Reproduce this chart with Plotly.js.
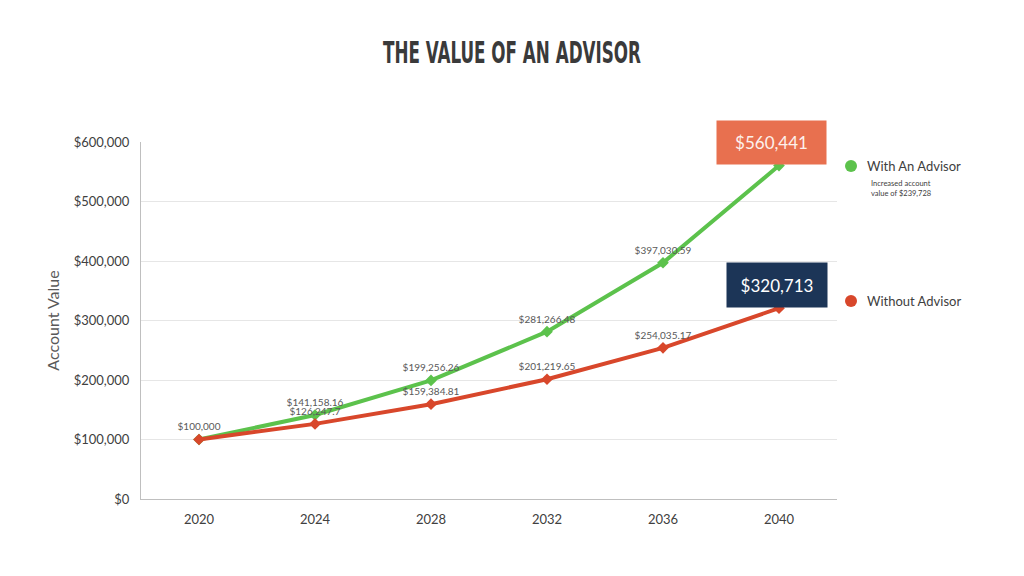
<!DOCTYPE html>
<html>
<head>
<meta charset="utf-8">
<script src="https://cdn.plot.ly/plotly-3.0.1.min.js"></script>
<style>html,body{margin:0;padding:0;background:#fff;}#chart{width:1024px;height:576px;}</style>
</head>
<body>
<div id="chart"></div>
<script>
const years = ['2020', '2024', '2028', '2032', '2036', '2040'];
const withAdvisor = [100000, 141158.16, 199256.26, 281266.48, 397030.59, 560441];
const withoutAdvisor = [100000, 126247.7, 159384.81, 201219.65, 254035.17, 320713];
const withLabels = ['', '$141,158.16', '$199,256.26', '$281,266.48', '$397,030.59', ''];
const withoutLabels = ['$100,000', '$126,247.7', '$159,384.81', '$201,219.65', '$254,035.17', ''];
const yTickVals = [0, 100000, 200000, 300000, 400000, 500000, 600000];
const yTickText = ['$0', '$100,000', '$200,000', '$300,000', '$400,000', '$500,000', '$600,000'];
const seriesNames = ['With An Advisor', 'Without Advisor'];
const endLabels = ['$560,441', '$320,713'];
const noteText = 'Increased account<br>value of $239,728';

const green = '#5cc24c';
const red = '#d8472b';
const font = 'Lato, "Open Sans", sans-serif';
const last = years.length - 1;

const traces = [
  {
    x: years, y: withAdvisor, name: seriesNames[0], type: 'scatter', mode: 'lines+markers+text',
    line: {color: green, width: 4}, marker: {symbol: 'diamond', size: 9, color: green},
    text: withLabels, textposition: 'top center', textfont: {family: font, size: 10, color: '#595959'},
    cliponaxis: false, hoverinfo: 'x+y'
  },
  {
    x: years, y: withoutAdvisor, name: seriesNames[1], type: 'scatter', mode: 'lines+markers+text',
    line: {color: red, width: 4}, marker: {symbol: 'diamond', size: 9, color: red},
    text: withoutLabels, textposition: 'top center', textfont: {family: font, size: 10, color: '#595959'},
    cliponaxis: false, hoverinfo: 'x+y'
  }
];

const layout = {
  width: 1024, height: 576,
  margin: {l: 141, r: 187, t: 142, b: 77},
  paper_bgcolor: '#fff', plot_bgcolor: '#fff',
  showlegend: false,
  title: {
    text: '<b>THE VALUE OF AN ADVISOR</b>',
    font: {family: '"DejaVu Sans Condensed", "Liberation Sans Narrow", sans-serif', size: 30, color: '#3a3a3a'},
    x: 0.5, xanchor: 'center', xref: 'container', y: 1 - 52 / 576, yanchor: 'middle'
  },
  xaxis: {
    type: 'category', range: [-0.5, 5.5],
    showgrid: false, zeroline: false,
    showline: true, linecolor: '#bfbfbf', linewidth: 1,
    ticks: '', tickfont: {family: font, size: 13, color: '#404040'},
    ticklabelstandoff: 8
  },
  yaxis: {
    range: [0, 600000], tickvals: yTickVals, ticktext: yTickText,
    showgrid: true, gridcolor: '#e6e6e6', gridwidth: 1, zeroline: false,
    showline: true, linecolor: '#bfbfbf', linewidth: 1,
    ticks: '', tickfont: {family: font, size: 13, color: '#404040'},
    ticklabelstandoff: 8,
    title: {text: 'Account Value', font: {family: font, size: 16, color: '#595959'}, standoff: 10}
  },
  shapes: [
    {type: 'circle', xref: 'paper', yref: 'paper', xsizemode: 'pixel', ysizemode: 'pixel',
     xanchor: (851 - 141) / 696, yanchor: (499 - 166) / 357, x0: -6, x1: 6, y0: -6, y1: 6,
     fillcolor: green, line: {width: 0}},
    {type: 'circle', xref: 'paper', yref: 'paper', xsizemode: 'pixel', ysizemode: 'pixel',
     xanchor: (851 - 141) / 696, yanchor: (499 - 301) / 357, x0: -6, x1: 6, y0: -6, y1: 6,
     fillcolor: red, line: {width: 0}}
  ],
  annotations: [
    {x: last, y: withAdvisor[last], xref: 'x', yref: 'y', text: endLabels[0], showarrow: false,
     xshift: -7.5, yshift: 23, bgcolor: '#e8704f', borderpad: 4, width: 101, height: 35,
     font: {family: font, size: 17, color: '#fdf1ec'}},
    {x: last, y: withoutAdvisor[last], xref: 'x', yref: 'y', text: endLabels[1], showarrow: false,
     xshift: -2, yshift: 23, bgcolor: '#1c3557', borderpad: 4, width: 92, height: 36,
     font: {family: font, size: 17, color: '#ffffff'}},
    {xref: 'paper', yref: 'paper', x: (865 - 141) / 696, y: (499 - 166) / 357, xanchor: 'left', yanchor: 'middle',
     text: seriesNames[0], showarrow: false, font: {family: font, size: 13, color: '#404040'}},
    {xref: 'paper', yref: 'paper', x: (869 - 141) / 696, y: (499 - 188) / 357, xanchor: 'left', yanchor: 'middle',
     text: noteText, align: 'left', showarrow: false, font: {family: font, size: 7.5, color: '#404040'}},
    {xref: 'paper', yref: 'paper', x: (865 - 141) / 696, y: (499 - 301) / 357, xanchor: 'left', yanchor: 'middle',
     text: seriesNames[1], showarrow: false, font: {family: font, size: 13, color: '#404040'}}
  ]
};

Plotly.newPlot('chart', traces, layout, {displayModeBar: false, staticPlot: true}).then(function (gd) {
  const t = gd.querySelector('.gtitle');
  if (t) {
    t.setAttribute('textLength', '258');
    t.setAttribute('lengthAdjust', 'spacingAndGlyphs');
  }
});
</script>
</body>
</html>
